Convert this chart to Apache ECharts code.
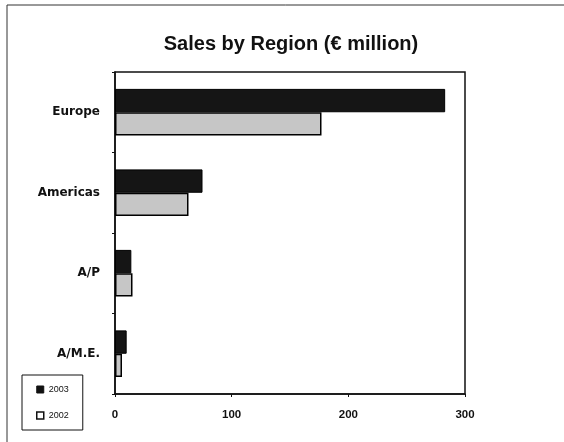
<!DOCTYPE html>
<html>
<head>
<meta charset="utf-8">
<script src="https://cdn.jsdelivr.net/npm/echarts@6/dist/echarts.min.js"></script>
<style>
html,body{margin:0;padding:0;background:#fff;}
#c{width:564px;height:442px;}
</style>
</head>
<body>
<div id="c"></div>
<script>
var categories = ['Europe', 'Americas', 'A/P', 'A/M.E.'];
var sales2003 = [283, 75, 14, 10];
var sales2002 = [177, 63, 15, 6];
var xTicks = [0, 100, 200, 300];

var chart = echarts.init(document.getElementById('c'));
var fontFam = 'Liberation Sans, Arial, sans-serif';
chart.setOption({
  backgroundColor: '#fff',
  animation: false,
  title: {
    text: 'Sales by Region (€ million)',
    left: 286,
    textAlign: 'center',
    top: 29,
    textStyle: { fontFamily: fontFam, fontSize: 20, fontWeight: 'bold', color: '#111' }
  },
  legend: {
    orient: 'vertical',
    left: 22,
    top: 375,
    itemWidth: 7,
    itemHeight: 7,
    itemGap: 17,
    padding: [10, 14, 10, 14],
    borderColor: '#111',
    borderWidth: 1,
    icon: 'rect',
    textStyle: { fontFamily: fontFam, fontSize: 9, color: '#111' },
    data: [
      { name: '2003', itemStyle: { color: '#111', borderColor: '#111', borderWidth: 1 } },
      { name: '2002', itemStyle: { color: '#fff', borderColor: '#111', borderWidth: 1.5 } }
    ]
  },
  grid: {
    left: 115, right: 99, top: 72, bottom: 48,
    show: true, borderColor: '#111', borderWidth: 1.5, backgroundColor: 'transparent'
  },
  xAxis: {
    type: 'value',
    min: xTicks[0],
    max: xTicks[xTicks.length - 1],
    interval: xTicks[1] - xTicks[0],
    splitLine: { show: false },
    axisLine: { show: true, lineStyle: { color: '#111', width: 1.5 } },
    axisTick: { show: true, length: 3, lineStyle: { color: '#111' } },
    axisLabel: { margin: 15, fontFamily: fontFam, fontSize: 11.5, fontWeight: 'bold', color: '#111' }
  },
  yAxis: {
    type: 'category',
    inverse: true,
    data: categories,
    axisLine: { show: true, lineStyle: { color: '#111', width: 1.5 } },
    axisTick: { show: true, length: 3, lineStyle: { color: '#111' } },
    axisLabel: { margin: 15, fontFamily: 'DejaVu Sans, sans-serif', fontSize: 12, fontWeight: 'bold', color: '#111' }
  },
  series: [
    {
      name: '2003', type: 'bar', data: sales2003,
      barGap: '0%', barCategoryGap: '42%',
      itemStyle: { color: '#151515', borderColor: '#000', borderWidth: 1 }
    },
    {
      name: '2002', type: 'bar', data: sales2002,
      itemStyle: { color: '#c6c6c6', borderColor: '#000', borderWidth: 1.5 }
    }
  ],
  graphic: [
    { type: 'line', shape: { x1: 7, y1: 5, x2: 7, y2: 442 }, style: { stroke: '#333', lineWidth: 1 } },
    { type: 'line', shape: { x1: 7, y1: 5, x2: 564, y2: 5 }, style: { stroke: '#333', lineWidth: 1 } }
  ]
});
</script>
</body>
</html>
